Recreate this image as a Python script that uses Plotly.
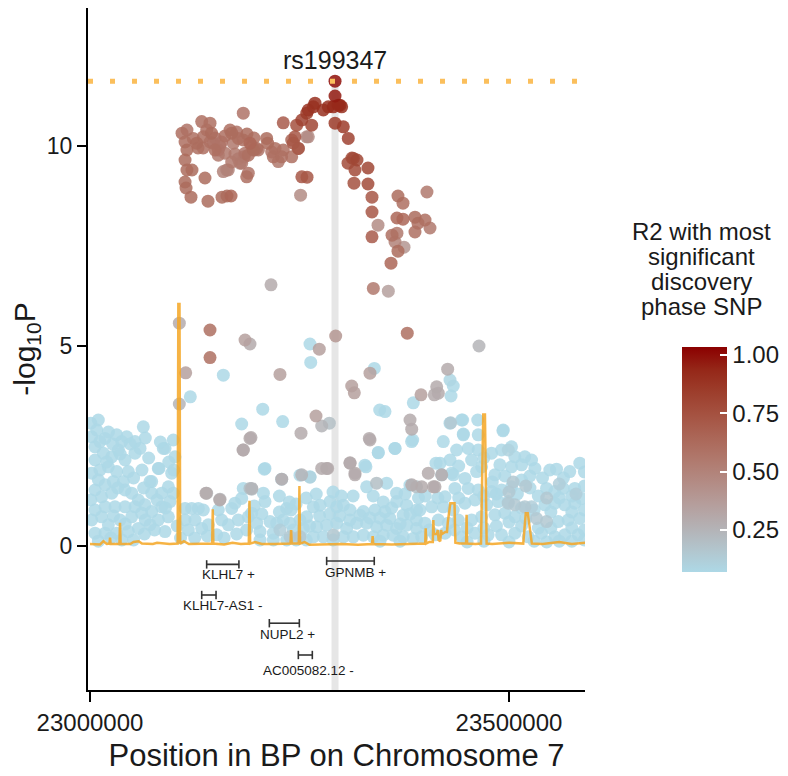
import plotly.graph_objects as go

CHR_START = 23000000

# lead SNP (kb offset from CHR_START, -log10P)
lead_name = "rs199347"
lead_kb = 292.4
lead_logp = 11.62

# SNPs in strong LD with the lead: (kb, -log10P, r2)
high_ld = [
    (292.4, 11.62, 1.00), (292.4, 11.25, 0.97), (268.5, 11.07, 0.90), (260.5, 10.90, 0.88),
    (266.5, 10.98, 0.88), (278.4, 10.90, 0.90), (284.4, 10.98, 0.90), (290.3, 10.98, 0.93),
    (296.3, 11.02, 0.93), (298.3, 11.02, 0.92), (300.3, 10.98, 0.90), (258.7, 10.82, 0.85),
    (252.8, 10.65, 0.82), (264.5, 10.52, 0.80), (292.4, 10.57, 0.85), (302.3, 10.48, 0.85),
    (308.2, 10.19, 0.82), (314.2, 9.69, 0.78), (312.6, 9.70, 0.78), (318.6, 9.65, 0.80),
    (307.9, 9.57, 0.78), (316.2, 9.40, 0.78), (331.7, 9.45, 0.80), (315.0, 9.07, 0.75),
    (331.7, 9.05, 0.78), (336.5, 8.72, 0.72), (336.5, 8.35, 0.72), (343.7, 8.02, 0.45),
    (336.5, 7.73, 0.70), (367.5, 8.75, 0.62), (373.5, 8.57, 0.60), (366.3, 8.20, 0.65),
    (373.5, 8.17, 0.65), (360.4, 7.77, 0.60), (366.3, 7.82, 0.55), (364.0, 7.60, 0.50),
    (374.7, 7.47, 0.40), (367.5, 7.37, 0.62), (359.2, 7.07, 0.65), (387.8, 8.22, 0.62),
    (391.4, 8.07, 0.60), (387.8, 7.85, 0.60), (399.8, 8.15, 0.60), (405.7, 7.95, 0.55),
    (402.1, 8.85, 0.55),
]

# left block of the association peak
left_block = [
    (182.9, 10.82, 0.58), (230.6, 10.58, 0.70), (246.6, 10.52, 0.75), (244.6, 10.23, 0.72),
    (242.6, 10.07, 0.72), (248.6, 9.94, 0.72), (260.5, 10.23, 0.45), (252.8, 9.23, 0.72),
    (251.3, 8.77, 0.45), (210.8, 10.19, 0.62), (212.0, 10.07, 0.62), (220.8, 9.94, 0.60),
    (230.6, 9.90, 0.60), (218.7, 9.73, 0.60), (224.7, 9.61, 0.55), (228.7, 9.73, 0.60),
    (240.7, 9.73, 0.60), (216.8, 9.85, 0.58), (133.3, 10.61, 0.60), (143.2, 10.57, 0.60),
    (139.3, 10.40, 0.60), (145.0, 10.32, 0.62), (135.2, 10.23, 0.60), (123.2, 10.19, 0.60),
    (127.3, 10.07, 0.62), (147.1, 10.07, 0.58), (149.2, 9.90, 0.60), (153.1, 9.77, 0.55),
    (161.1, 9.82, 0.55), (167.1, 10.40, 0.60), (169.1, 10.32, 0.62), (171.0, 10.07, 0.55),
    (177.0, 10.19, 0.60), (182.9, 10.15, 0.60), (190.9, 10.07, 0.65), (194.9, 9.90, 0.62),
    (198.9, 9.94, 0.60), (188.9, 9.77, 0.60), (184.0, 9.73, 0.55), (179.0, 9.57, 0.50),
    (163.1, 9.40, 0.50), (159.1, 9.36, 0.50), (188.9, 9.32, 0.58), (187.0, 9.23, 0.60),
    (109.8, 10.32, 0.60), (115.7, 9.90, 0.62), (113.4, 9.65, 0.62), (115.7, 9.40, 0.62),
    (121.7, 9.40, 0.62), (113.4, 9.10, 0.62), (114.6, 8.95, 0.62), (120.5, 8.72, 0.62),
    (137.2, 9.20, 0.62), (140.8, 8.62, 0.62), (157.5, 8.72, 0.62), (163.5, 8.75, 0.62),
    (168.3, 8.75, 0.65), (259.0, 9.22, 0.72), (153.1, 9.90, 0.58), (169.1, 9.60, 0.55),
    (177.0, 9.68, 0.50), (185.0, 9.82, 0.58), (193.0, 10.00, 0.60), (196.9, 9.90, 0.55),
    (200.9, 9.90, 0.58), (181.0, 9.57, 0.55), (165.0, 9.40, 0.50), (115.7, 10.40, 0.58),
    (113.4, 10.10, 0.60), (128.9, 9.95, 0.60), (143.2, 10.10, 0.55), (149.2, 10.20, 0.58),
    (155.1, 10.00, 0.55), (173.0, 9.80, 0.55), (187.3, 10.30, 0.62), (195.7, 10.20, 0.60),
    (157.0, 10.10, 0.58), (161.0, 10.25, 0.60), (175.0, 10.35, 0.58), (135.0, 9.95, 0.60),
    (240.7, 10.15, 0.65), (248.6, 9.94, 0.62), (258.6, 10.23, 0.45),
]

# scattered SNPs in the middle range
mid_range = [
    (216.0, 6.53, 0.30), (338.1, 6.44, 0.55), (356.0, 6.37, 0.35), (106.6, 5.57, 0.30),
    (143.2, 5.40, 0.60), (143.2, 4.71, 0.60), (185.0, 5.15, 0.35), (190.9, 5.05, 0.30),
    (262.5, 5.05, 0.04), (273.6, 4.92, 0.35), (293.2, 5.25, 0.40), (378.6, 5.32, 0.60),
    (464.2, 5.00, 0.25), (263.4, 4.59, 0.04), (114.2, 4.33, 0.35), (159.1, 4.27, 0.04),
    (226.7, 4.29, 0.35), (334.1, 4.32, 0.35), (339.3, 4.44, 0.04), (426.8, 4.42, 0.30),
    (119.7, 3.73, 0.04), (106.6, 3.55, 0.25), (312.3, 4.00, 0.35), (315.4, 3.83, 0.35),
    (395.0, 3.78, 0.35), (413.7, 3.98, 0.30), (415.6, 3.82, 0.30), (410.9, 3.78, 0.30),
    (429.6, 4.15, 0.08), (433.5, 4.00, 0.06), (430.8, 3.75, 0.06), (385.8, 3.58, 0.04),
    (345.7, 3.40, 0.04), (352.0, 3.36, 0.04), (206.1, 3.42, 0.04), (181.0, 3.05, 0.04),
    (229.9, 3.11, 0.04), (269.7, 3.25, 0.35), (276.5, 3.00, 0.25), (285.6, 3.07, 0.20),
    (251.8, 2.82, 0.30), (192.1, 2.71, 0.30), (182.6, 2.40, 0.30), (333.3, 2.69, 0.30),
    (381.9, 3.15, 0.30), (383.9, 2.92, 0.30), (385.1, 2.65, 0.04), (344.0, 2.34, 0.04),
    (364.0, 2.44, 0.04), (430.4, 3.08, 0.15), (444.7, 3.15, 0.04), (445.5, 2.78, 0.04),
    (492.8, 2.88, 0.04), (208.0, 1.92, 0.04), (228.8, 1.67, 0.30), (252.6, 1.78, 0.25),
    (262.5, 1.72, 0.10), (283.6, 1.94, 0.30), (310.3, 2.08, 0.30), (316.2, 1.78, 0.30),
    (329.3, 1.98, 0.04), (138.4, 1.32, 0.30), (154.8, 1.15, 0.30), (182.9, 1.44, 0.04),
    (193.0, 1.42, 0.20), (409.7, 1.48, 0.30), (419.7, 1.78, 0.30), (433.5, 1.78, 0.04),
    (412.9, 2.07, 0.04), (383.9, 1.53, 0.30),
]

# background SNPs, left part of the region
bg_left = [
    (1.0, 3.07, 0.02), (2.0, 2.73, 0.02), (6.0, 2.48, 0.02), (11.9, 2.61, 0.02), (17.9, 2.69, 0.02),
    (31.8, 2.78, 0.02), (37.8, 2.61, 0.02), (43.8, 2.73, 0.02), (53.7, 2.61, 0.02), (63.6, 2.98, 0.02),
    (59.7, 2.44, 0.02), (53.7, 2.32, 0.02), (41.8, 2.15, 0.02), (33.8, 2.40, 0.02), (25.9, 2.23, 0.02),
    (15.9, 2.32, 0.02), (6.0, 2.15, 0.02), (2.0, 1.82, 0.02), (11.9, 1.90, 0.02), (21.9, 1.98, 0.02),
    (31.8, 1.86, 0.02), (45.7, 1.86, 0.02), (39.8, 1.61, 0.02), (27.8, 1.61, 0.02), (17.9, 1.53, 0.02),
    (6.0, 1.40, 0.02), (1.0, 1.15, 0.02), (13.9, 1.23, 0.02), (25.9, 1.32, 0.02), (41.8, 1.40, 0.02),
    (49.7, 1.32, 0.02), (57.7, 1.15, 0.02), (71.6, 1.61, 0.02), (81.5, 1.94, 0.02), (87.5, 2.44, 0.02),
    (99.4, 2.65, 0.02), (101.4, 2.23, 0.02), (97.5, 1.82, 0.02), (93.5, 1.48, 0.02), (85.5, 1.32, 0.02),
    (73.6, 1.32, 0.02), (65.6, 1.03, 0.02), (53.7, 0.98, 0.02), (41.8, 0.98, 0.02), (29.8, 0.98, 0.02),
    (17.9, 0.98, 0.02), (6.0, 0.90, 0.02), (2.0, 0.65, 0.02), (13.9, 0.73, 0.02), (21.9, 0.53, 0.02),
    (35.8, 0.65, 0.02), (49.7, 0.73, 0.02), (61.7, 0.82, 0.02), (73.6, 0.86, 0.02), (85.5, 0.98, 0.02),
    (95.5, 1.11, 0.02), (99.4, 1.32, 0.02), (93.5, 0.73, 0.02), (81.5, 0.65, 0.02), (71.6, 0.53, 0.02),
    (57.7, 0.44, 0.02), (45.7, 0.36, 0.02), (31.8, 0.32, 0.02), (17.9, 0.32, 0.02), (6.0, 0.32, 0.02),
    (89.5, 0.36, 0.02), (113.4, 0.94, 0.02), (121.3, 0.94, 0.02), (129.3, 0.94, 0.02), (135.2, 0.90, 0.02),
    (113.4, 0.65, 0.02), (125.3, 0.65, 0.02), (117.3, 0.40, 0.02), (133.3, 0.44, 0.02), (153.1, 0.90, 0.02),
    (157.1, 0.65, 0.02), (169.1, 0.94, 0.02), (173.0, 1.07, 0.02), (181.0, 1.19, 0.02), (141.2, 0.53, 0.02),
    (151.2, 0.28, 0.02), (165.1, 0.53, 0.02), (177.0, 0.65, 0.02), (188.9, 0.73, 0.02), (186.9, 0.40, 0.02),
    (192.9, 0.82, 0.02), (89.5, 2.44, 0.02), (82.3, 1.94, 0.02), (73.6, 1.61, 0.02), (9.9, 3.15, 0.02),
    (8.0, 2.90, 0.02), (22.0, 2.85, 0.02), (27.0, 2.55, 0.02), (48.0, 2.55, 0.02), (66.0, 2.70, 0.02),
    (70.0, 2.20, 0.02), (62.0, 1.90, 0.02), (36.0, 2.30, 0.02), (20.0, 2.10, 0.02), (10.0, 1.65, 0.02),
    (33.0, 1.45, 0.02), (52.0, 1.70, 0.02), (64.0, 1.45, 0.02), (80.0, 1.15, 0.02), (90.0, 0.95, 0.02),
    (77.0, 0.40, 0.02), (65.0, 0.30, 0.02), (52.0, 0.15, 0.02), (38.0, 0.15, 0.02), (25.0, 0.20, 0.02),
    (10.0, 0.12, 0.02), (28.0, 0.75, 0.02), (42.0, 0.55, 0.02), (66.0, 0.65, 0.02), (104.0, 0.50, 0.02),
    (108.0, 0.20, 0.02), (125.0, 0.20, 0.02), (140.0, 0.25, 0.02), (160.0, 0.20, 0.02), (175.0, 0.30, 0.02),
    (100.0, 1.90, 0.02), (94.0, 2.10, 0.02), (84.0, 2.60, 0.02),
    (139.2, 1.32, 0.25), (155.1, 1.17, 0.25), (183.0, 2.40, 0.30), (190.9, 2.69, 0.30), (190.9, 1.44, 0.20),
]

# background SNPs, middle part
bg_mid = [
    (208.8, 1.94, 0.02), (228.7, 1.67, 0.02), (250.6, 1.77, 0.02), (262.6, 1.73, 0.02), (328.1, 2.02, 0.02),
    (344.0, 2.33, 0.02), (363.9, 2.44, 0.02), (383.8, 2.61, 0.02), (206.9, 1.32, 0.02), (208.8, 1.11, 0.02),
    (234.7, 0.94, 0.02), (250.6, 0.65, 0.02), (258.6, 0.73, 0.02), (266.5, 0.98, 0.02), (274.5, 1.02, 0.02),
    (286.4, 1.11, 0.02), (294.4, 0.98, 0.02), (302.3, 1.02, 0.02), (310.3, 0.90, 0.02), (322.2, 0.77, 0.02),
    (330.1, 1.48, 0.02), (354.0, 1.57, 0.02), (365.9, 1.32, 0.02), (381.8, 1.52, 0.02), (365.9, 1.11, 0.02),
    (377.8, 1.02, 0.02), (389.7, 0.90, 0.02), (326.2, 0.86, 0.02), (340.1, 0.90, 0.02), (352.0, 0.86, 0.02),
    (357.9, 0.69, 0.02), (373.8, 0.77, 0.02), (389.7, 0.65, 0.02), (198.9, 0.57, 0.02), (214.8, 0.61, 0.02),
    (222.8, 0.57, 0.02), (230.7, 0.65, 0.02), (238.7, 0.57, 0.02), (218.8, 0.32, 0.02), (202.9, 0.36, 0.02),
    (242.6, 0.40, 0.02), (254.6, 0.44, 0.02), (270.5, 0.48, 0.02), (282.4, 0.52, 0.02), (294.4, 0.57, 0.02),
    (306.3, 0.44, 0.02), (318.2, 0.57, 0.02), (330.1, 0.57, 0.02), (342.0, 0.48, 0.02), (354.0, 0.52, 0.02),
    (365.9, 0.44, 0.02), (377.8, 0.52, 0.02), (389.7, 0.44, 0.02), (202.9, 0.15, 0.02), (218.8, 0.15, 0.02),
    (234.7, 0.15, 0.02), (266.5, 0.23, 0.02), (278.5, 0.23, 0.02), (302.3, 0.23, 0.02), (314.2, 0.23, 0.02),
    (326.2, 0.27, 0.02), (338.1, 0.23, 0.02), (350.0, 0.27, 0.02), (361.9, 0.27, 0.02), (373.8, 0.23, 0.02),
    (385.7, 0.19, 0.02), (246.0, 1.05, 0.02), (258.0, 1.20, 0.02), (290.0, 1.35, 0.02), (314.0, 1.25, 0.02),
    (196.0, 1.00, 0.02), (205.0, 0.80, 0.02), (226.0, 0.85, 0.02), (240.0, 0.90, 0.02), (262.0, 0.50, 0.02),
    (274.0, 0.75, 0.02), (286.0, 0.80, 0.02), (298.0, 0.75, 0.02), (310.0, 0.65, 0.02), (334.0, 0.70, 0.02),
    (346.0, 0.70, 0.02), (370.0, 0.55, 0.02), (382.0, 0.80, 0.02), (258.0, 0.15, 0.02), (246.0, 0.15, 0.02),
    (290.0, 0.15, 0.02), (346.0, 0.12, 0.02), (370.0, 0.12, 0.02), (226.0, 1.25, 0.02), (238.0, 1.10, 0.02),
    (270.0, 1.30, 0.02), (300.0, 1.25, 0.02), (338.0, 1.25, 0.02), (350.0, 1.10, 0.02), (360.0, 0.95, 0.02),
    (376.0, 1.30, 0.02), (392.0, 1.20, 0.02),
    (276.5, 1.94, 0.30), (282.4, 1.94, 0.30), (310.3, 2.07, 0.30), (316.2, 1.82, 0.30), (334.1, 2.65, 0.30),
    (193.0, 1.44, 0.25), (342.0, 1.57, 0.20), (389.7, 1.48, 0.20), (226.7, 0.40, 0.12), (238.7, 0.23, 0.15),
    (250.6, 0.23, 0.15), (290.4, 0.27, 0.15),
]

# background SNPs, right part
bg_right = [
    (429.6, 3.07, 0.02), (443.5, 3.15, 0.02), (445.5, 2.80, 0.02), (493.1, 2.90, 0.02), (421.6, 2.61, 0.02),
    (437.5, 2.40, 0.02), (451.4, 2.44, 0.02), (463.3, 2.40, 0.02), (479.2, 2.32, 0.02), (491.1, 2.40, 0.02),
    (503.0, 2.48, 0.02), (507.0, 2.23, 0.02), (518.9, 2.23, 0.02), (526.9, 2.15, 0.02), (515.0, 2.03, 0.02),
    (503.0, 1.98, 0.02), (489.1, 2.03, 0.02), (483.2, 1.78, 0.02), (467.3, 1.98, 0.02), (455.4, 2.15, 0.02),
    (429.6, 2.15, 0.02), (417.7, 2.07, 0.02), (419.6, 1.78, 0.02), (431.6, 1.82, 0.02), (447.4, 1.69, 0.02),
    (461.3, 1.86, 0.02), (423.6, 1.23, 0.02), (435.5, 1.44, 0.02), (451.4, 1.44, 0.02), (463.3, 1.40, 0.02),
    (479.2, 1.36, 0.02), (491.1, 1.40, 0.02), (503.0, 1.48, 0.02), (515.0, 1.65, 0.02), (530.9, 1.94, 0.02),
    (548.7, 1.90, 0.02), (556.7, 1.92, 0.02), (572.5, 1.86, 0.02), (584.5, 2.07, 0.02), (544.8, 1.44, 0.02),
    (554.7, 1.36, 0.02), (564.6, 1.44, 0.02), (578.5, 1.44, 0.02), (393.8, 0.90, 0.02), (407.7, 0.98, 0.02),
    (421.6, 0.98, 0.02), (433.5, 0.90, 0.02), (447.4, 1.07, 0.02), (459.4, 1.15, 0.02), (473.3, 1.03, 0.02),
    (487.1, 1.11, 0.02), (499.1, 1.11, 0.02), (542.8, 1.03, 0.02), (554.7, 1.07, 0.02), (566.6, 1.03, 0.02),
    (578.5, 1.07, 0.02), (586.5, 1.19, 0.02), (399.8, 0.57, 0.02), (415.7, 0.65, 0.02), (427.6, 0.57, 0.02),
    (439.5, 0.65, 0.02), (455.4, 0.65, 0.02), (467.3, 0.73, 0.02), (483.2, 0.78, 0.02), (495.1, 0.82, 0.02),
    (507.0, 0.73, 0.02), (520.0, 0.69, 0.02), (558.7, 0.61, 0.02), (570.6, 0.65, 0.02), (584.5, 0.69, 0.02),
    (395.8, 0.23, 0.02), (411.7, 0.28, 0.02), (423.6, 0.32, 0.02), (443.5, 0.23, 0.02), (459.4, 0.32, 0.02),
    (475.2, 0.28, 0.02), (491.1, 0.28, 0.02), (507.0, 0.32, 0.02), (522.9, 0.23, 0.02), (538.8, 0.32, 0.02),
    (554.7, 0.23, 0.02), (566.6, 0.28, 0.02), (582.5, 0.28, 0.02), (462.7, 3.15, 0.02), (463.3, 2.78, 0.02),
    (400.0, 1.25, 0.02), (415.0, 1.20, 0.02), (440.0, 1.20, 0.02), (470.0, 1.25, 0.02), (485.0, 1.30, 0.02),
    (510.0, 1.30, 0.02), (525.0, 1.45, 0.02), (535.0, 1.25, 0.02), (560.0, 1.20, 0.02), (575.0, 1.25, 0.02),
    (590.0, 1.50, 0.02), (590.0, 0.90, 0.02), (575.0, 0.85, 0.02), (550.0, 0.85, 0.02), (530.0, 0.90, 0.02),
    (515.0, 0.95, 0.02), (500.0, 0.60, 0.02), (485.0, 0.50, 0.02), (470.0, 0.45, 0.02), (450.0, 0.45, 0.02),
    (435.0, 0.40, 0.02), (405.0, 0.40, 0.02), (515.0, 0.50, 0.02), (535.0, 0.45, 0.02), (550.0, 0.45, 0.02),
    (575.0, 0.45, 0.02), (590.0, 0.40, 0.02), (450.0, 0.10, 0.02), (470.0, 0.12, 0.02), (500.0, 0.10, 0.02),
    (530.0, 0.12, 0.02), (545.0, 0.10, 0.02), (560.0, 0.12, 0.02), (575.0, 0.12, 0.02), (590.0, 0.15, 0.02),
    (540.0, 1.70, 0.02), (565.0, 1.70, 0.02), (590.0, 1.85, 0.02), (525.0, 1.75, 0.02), (480.0, 1.60, 0.02),
    (495.0, 1.75, 0.02), (470.0, 2.20, 0.02), (440.0, 2.00, 0.02),
    (403.7, 1.82, 0.30), (395.8, 1.48, 0.30), (411.7, 1.48, 0.30), (499.1, 1.07, 0.15), (507.0, 1.03, 0.15),
    (518.9, 0.98, 0.15), (532.8, 0.69, 0.15), (544.8, 0.61, 0.15), (526.9, 0.98, 0.12), (499.1, 2.40, 0.10),
    (505.0, 1.60, 0.15), (520.0, 1.50, 0.15), (545.0, 1.20, 0.15), (560.0, 1.55, 0.12), (580.0, 1.30, 0.12),
    (500.0, 1.35, 0.15),
]

# recombination rate trace (kb, scaled value)
rec_kb = [0, 12, 16, 20, 23.2, 23.9, 24.6, 35.1, 35.8, 36.5, 48, 52, 58, 62, 75, 80, 95,
          104.6, 105.4, 106.8, 107.6, 112, 118, 130, 145.8, 146.5, 147.2, 160, 170, 180,
          189.5, 190.3, 191.1, 197, 205, 220, 239.3, 240.0, 240.7, 249.2, 249.9, 250.6, 256,
          262, 280, 300, 320, 336.6, 337.3, 338, 360, 380, 392, 400.0, 400.6, 401.2, 405,
          409.1, 409.7, 410.3, 414, 415, 416, 418, 419, 420, 424, 426, 427, 430, 435, 436,
          441, 448.8, 449.4, 450, 460, 466.6, 469.3, 471.3, 473.3, 480, 500, 517, 520, 522.4,
          527.3, 540, 560, 575, 591]
rec_val = [0.05, 0.04, 0.12, 0.05, 0.06, 0.21, 0.05, 0.05, 0.58, 0.05, 0.05, 0.10, 0.12, 0.06, 0.05, 0.08, 0.05,
           0.06, 6.05, 6.05, 0.06, 0.12, 0.05, 0.05, 0.06, 0.92, 0.06, 0.04, 0.08, 0.05,
           0.06, 1.13, 0.06, 0.10, 0.05, 0.05, 0.06, 0.40, 0.06, 0.06, 1.50, 0.06, 0.10,
           0.03, 0.04, 0.05, 0.03, 0.05, 0.25, 0.05, 0.04, 0.05, 0.05, 0.06, 0.44, 0.06, 0.10,
           0.10, 0.65, 0.30, 0.30, 0.40, 0.15, 0.12, 0.40, 0.30, 0.35, 0.35, 0.60, 1.07, 1.07, 0.08,
           0.06, 0.06, 0.78, 0.06, 0.05, 0.06, 3.29, 3.29, 0.06, 0.05, 0.08, 0.06, 0.82, 0.82,
           0.06, 0.05, 0.10, 0.05, 0.08]

# genes: name, strand, start kb, end kb, row y, label x kb, label y
gene_names = ["KLHL7", "GPNMB", "KLHL7-AS1", "NUPL2", "AC005082.12"]
gene_strand = ["+", "+", "-", "+", "-"]
gene_start = [139.2, 282.4, 133.3, 214.0, 248.6]
gene_end = [177.7, 339.2, 150.4, 249.8, 265.3]
gene_row = [-0.46, -0.375, -1.225, -1.93, -2.725]
label_kb = [165.0, 316.6, 158.9, 236.1, 260.9]
label_row = [-0.71, -0.67, -1.49, -2.20, -3.10]


def lab_from_hex(h):
    rgb = [int(h[i:i + 2], 16) / 255 for i in (1, 3, 5)]
    lin = [c / 12.92 if c <= 0.04045 else ((c + 0.055) / 1.055) ** 2.4 for c in rgb]
    r, g, b = lin
    X = (0.4124 * r + 0.3576 * g + 0.1805 * b) / 0.95047
    Y = 0.2126 * r + 0.7152 * g + 0.0722 * b
    Z = (0.0193 * r + 0.1192 * g + 0.9505 * b) / 1.08883
    f = lambda t: t ** (1 / 3) if t > 0.008856 else 7.787 * t + 16 / 116
    fx, fy, fz = f(X), f(Y), f(Z)
    return 116 * fy - 16, 500 * (fx - fy), 200 * (fy - fz)


def rgb_from_lab(L, a, b):
    fy = (L + 16) / 116
    fx = fy + a / 500
    fz = fy - b / 200
    finv = lambda t: t ** 3 if t ** 3 > 0.008856 else (t - 16 / 116) / 7.787
    X, Y, Z = 0.95047 * finv(fx), finv(fy), 1.08883 * finv(fz)
    r = 3.2406 * X - 1.5372 * Y - 0.4986 * Z
    g = -0.9689 * X + 1.8758 * Y + 0.0415 * Z
    bb = 0.0557 * X - 0.2040 * Y + 1.0570 * Z
    gam = lambda c: 12.92 * c if c <= 0.0031308 else 1.055 * c ** (1 / 2.4) - 0.055
    out = [round(max(0, min(1, gam(max(0, min(1, c))))) * 255) for c in (r, g, bb)]
    return "rgb(%d,%d,%d)" % tuple(out)


# ggplot-like gradient lightblue -> darkred in Lab space
lo, hi = lab_from_hex("#ADD8E6"), lab_from_hex("#8B0000")
colorscale = []
for i in range(11):
    t = i / 10
    colorscale.append([t, rgb_from_lab(*[lo[k] + (hi[k] - lo[k]) * t for k in range(3)])])

snps = bg_left + bg_mid + bg_right + mid_range + left_block + high_ld
snps = sorted(snps, key=lambda s: s[2])

fig = go.Figure()

fig.add_trace(go.Scatter(
    x=[CHR_START + s[0] * 1000 for s in snps],
    y=[s[1] for s in snps],
    mode="markers",
    marker=dict(
        size=13, color=[s[2] for s in snps], colorscale=colorscale,
        cmin=0.07, cmax=1.034, opacity=0.85, line=dict(width=0),
        colorbar=dict(
            x=1.195, xanchor="left", xpad=0, y=0.338, yanchor="middle", ypad=0,
            len=225, lenmode="pixels", thickness=45, outlinewidth=0,
            tickvals=[0.25, 0.5, 0.75, 1.0], tickformat=".2f",
            ticks="inside", ticklen=7, tickcolor="white", tickwidth=1.5,
            tickfont=dict(size=24, color="#1a1a1a"),
        ),
    ),
    showlegend=False, hoverinfo="skip",
))

fig.add_trace(go.Scatter(
    x=[CHR_START + k * 1000 for k in rec_kb], y=rec_val, mode="lines",
    line=dict(color="rgba(245,166,35,0.85)", width=2.5),
    showlegend=False, hoverinfo="skip",
))

for i, name in enumerate(gene_names):
    fig.add_trace(go.Scatter(
        x=[CHR_START + gene_start[i] * 1000, CHR_START + gene_end[i] * 1000],
        y=[gene_row[i], gene_row[i]], mode="lines+markers",
        line=dict(color="#333333", width=1.6),
        marker=dict(symbol="line-ns", size=6, line=dict(color="#333333", width=1.6)),
        showlegend=False, hoverinfo="skip",
    ))
    fig.add_annotation(
        x=CHR_START + label_kb[i] * 1000, y=label_row[i],
        text=name + " " + gene_strand[i], showarrow=False,
        font=dict(size=13.5, color="#1a1a1a"),
    )

lead_x = CHR_START + lead_kb * 1000
fig.add_shape(type="line", x0=lead_x, x1=lead_x, y0=-3.6, y1=lead_logp,
              line=dict(color="#e6e6e6", width=7), layer="below")
fig.add_shape(type="line", xref="paper", x0=0, x1=1, y0=lead_logp, y1=lead_logp,
              line=dict(color="#fbbf5c", width=5, dash="5px,17px"), layer="above")
fig.add_annotation(x=lead_x, y=lead_logp, text=lead_name, showarrow=False,
                   yshift=21, font=dict(size=25, color="#1a1a1a"))

legend_lines = ["R2 with most", "significant", "discovery", "phase SNP"]
legend_y = [0.6716, 0.6349, 0.5990, 0.5630]
for txt, yy in zip(legend_lines, legend_y):
    fig.add_annotation(x=1.235, y=yy, xref="paper", yref="paper", text=txt,
                       showarrow=False, xanchor="center", yanchor="middle",
                       font=dict(size=24, color="#1a1a1a"))

# the page adds an 8px body margin, so the figure is 8px smaller on each axis
fig.update_layout(
    width=780, height=768,
    margin=dict(l=80, r=203, t=0, b=86, autoexpand=False),
    plot_bgcolor="white", paper_bgcolor="white",
    font=dict(family="Liberation Sans, Arial, sans-serif", color="#1a1a1a"),
    xaxis=dict(
        range=[22997600, 23590700], tickvals=[23000000, 23500000],
        ticktext=["23000000", "23500000"], showgrid=False, zeroline=False,
        showline=True, linecolor="black", linewidth=2,
        ticks="outside", ticklen=10, tickwidth=2, tickcolor="black",
        tickfont=dict(size=24),
        title=dict(text="Position in BP on Chromosome 7", font=dict(size=31), standoff=10),
    ),
    yaxis=dict(
        range=[-3.6, 13.45], tickvals=[0, 5, 10], showgrid=False, zeroline=False,
        showline=True, linecolor="black", linewidth=2,
        ticks="outside", ticklen=9, tickwidth=2, tickcolor="black",
        tickfont=dict(size=23),
        title=dict(text="-log<sub>10</sub>P", font=dict(size=30), standoff=10),
    ),
)

fig.write_html("out.html")
